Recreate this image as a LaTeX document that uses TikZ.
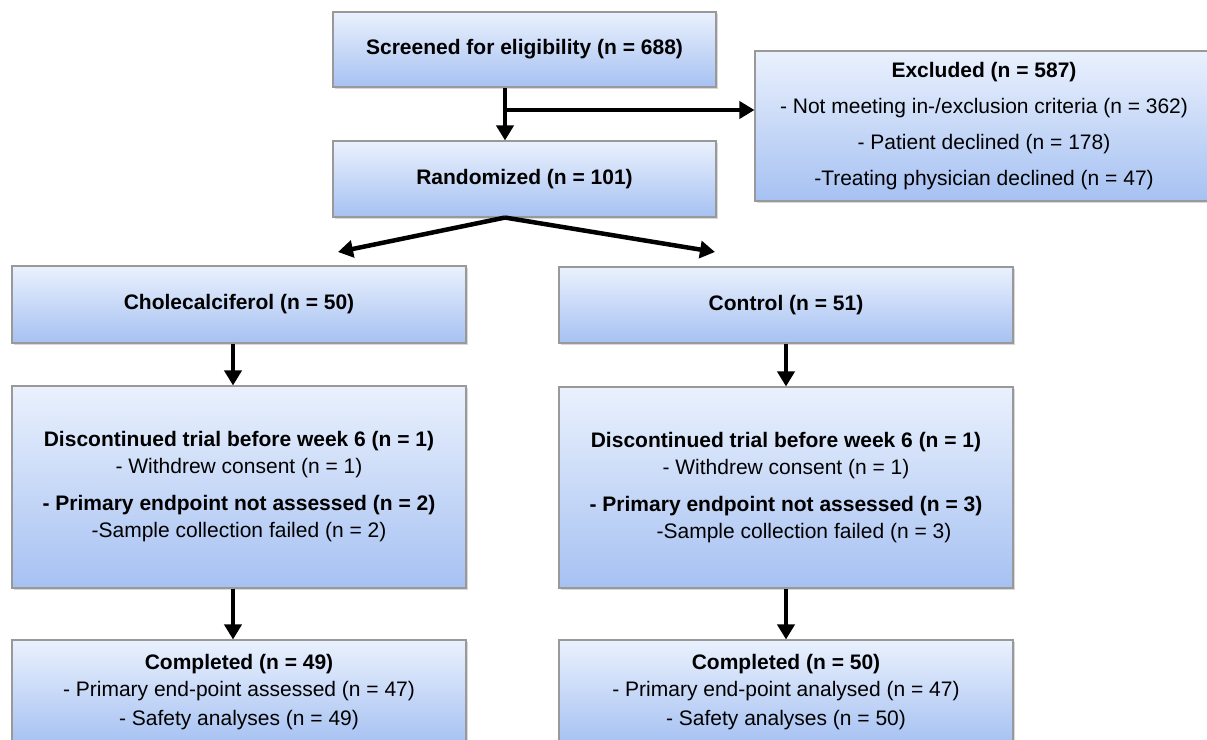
\documentclass[tikz,border=0pt]{standalone}
\usepackage{fontspec}
\setmainfont{Liberation Sans}
\usetikzlibrary{arrows.meta,shadows}
\begin{document}
\begin{tikzpicture}[x=1pt,y=-1pt,
  box/.style={rectangle, draw=black!40, line width=1.1pt,
    top color=boxtop, bottom color=boxbot, align=center,
    inner sep=0pt, font=\fontsize{21}{27}\selectfont,
    drop shadow={opacity=0.3, shadow xshift=1.5pt, shadow yshift=-2pt}},
  arr/.style={line width=4.5pt, -{Triangle[width=17pt,length=15pt]}},
  ]
\definecolor{boxtop}{RGB}{234,241,253}
\definecolor{boxbot}{RGB}{166,193,242}
\clip (0,0) rectangle (1207,739);
\fill[white] (0,0) rectangle (1207,739);

\node[box, minimum width=383pt, minimum height=75pt] (scr) at (524.5,49.5)
  {\textbf{Screened for eligibility (n = 688)}};
\node[box, minimum width=458pt, minimum height=150pt] (exc) at (984,126)
  {\textbf{Excluded (n = 587)}\\[9pt]
   - Not meeting in-/exclusion criteria (n = 362)\\[9pt]
   - Patient declined (n = 178)\\[9pt]
   -Treating physician declined (n = 47)};
\node[box, minimum width=383pt, minimum height=76pt] (rand) at (524.5,179)
  {\textbf{Randomized (n = 101)}};
\node[box, minimum width=454pt, minimum height=77pt] (chol) at (239,304.5)
  {\textbf{Cholecalciferol (n = 50)}};
\node[box, minimum width=454pt, minimum height=76pt] (ctrl) at (786,305)
  {\textbf{Control (n = 51)}};
\node[box, minimum width=454pt, minimum height=202pt] (discL) at (239,487)
  {\textbf{Discontinued trial before week 6 (n = 1)}\\
   - Withdrew consent (n = 1)\\[10pt]
   \textbf{- Primary endpoint not assessed (n = 2)}\\
   -Sample collection failed (n = 2)};
\node[box, minimum width=454pt, minimum height=201pt] (discR) at (786,487.5)
  {\textbf{Discontinued trial before week 6 (n = 1)}\\
   - Withdrew consent (n = 1)\\[10pt]
   \textbf{- Primary endpoint not assessed (n = 3)}\\
   \hspace*{36pt}-Sample collection failed (n = 3)};
\node[box, minimum width=454pt, minimum height=104pt] (compL) at (239,692)
  {\textbf{Completed (n = 49)}\\
   - Primary end-point assessed (n = 47)\\[2pt]
   - Safety analyses (n = 49)};
\node[box, minimum width=454pt, minimum height=104pt] (compR) at (786,692)
  {\textbf{Completed (n = 50)}\\
   - Primary end-point analysed (n = 47)\\[2pt]
   - Safety analyses (n = 50)};

% connectors
\draw[arr] ([xshift=-19.5pt]scr.south) -- ([xshift=-19.5pt]rand.north);
\coordinate (br) at (505,110);
\draw[arr] (br) -- (br -| exc.west);
\coordinate (sp) at ([xshift=-19.5pt]rand.south);
\coordinate (la) at (338,252);
\coordinate (ra) at (715,252);
\draw[arr] (sp) -- (la);
\draw[arr] (sp) -- (ra);
\draw[arr] ([xshift=-6pt]chol.south) -- ([xshift=-6pt]discL.north);
\draw[arr] ([xshift=-6pt]discL.south) -- ([xshift=-6pt]compL.north);
\draw[arr] (ctrl.south) -- (discR.north);
\draw[arr] (discR.south) -- (compR.north);
\end{tikzpicture}
\end{document}
